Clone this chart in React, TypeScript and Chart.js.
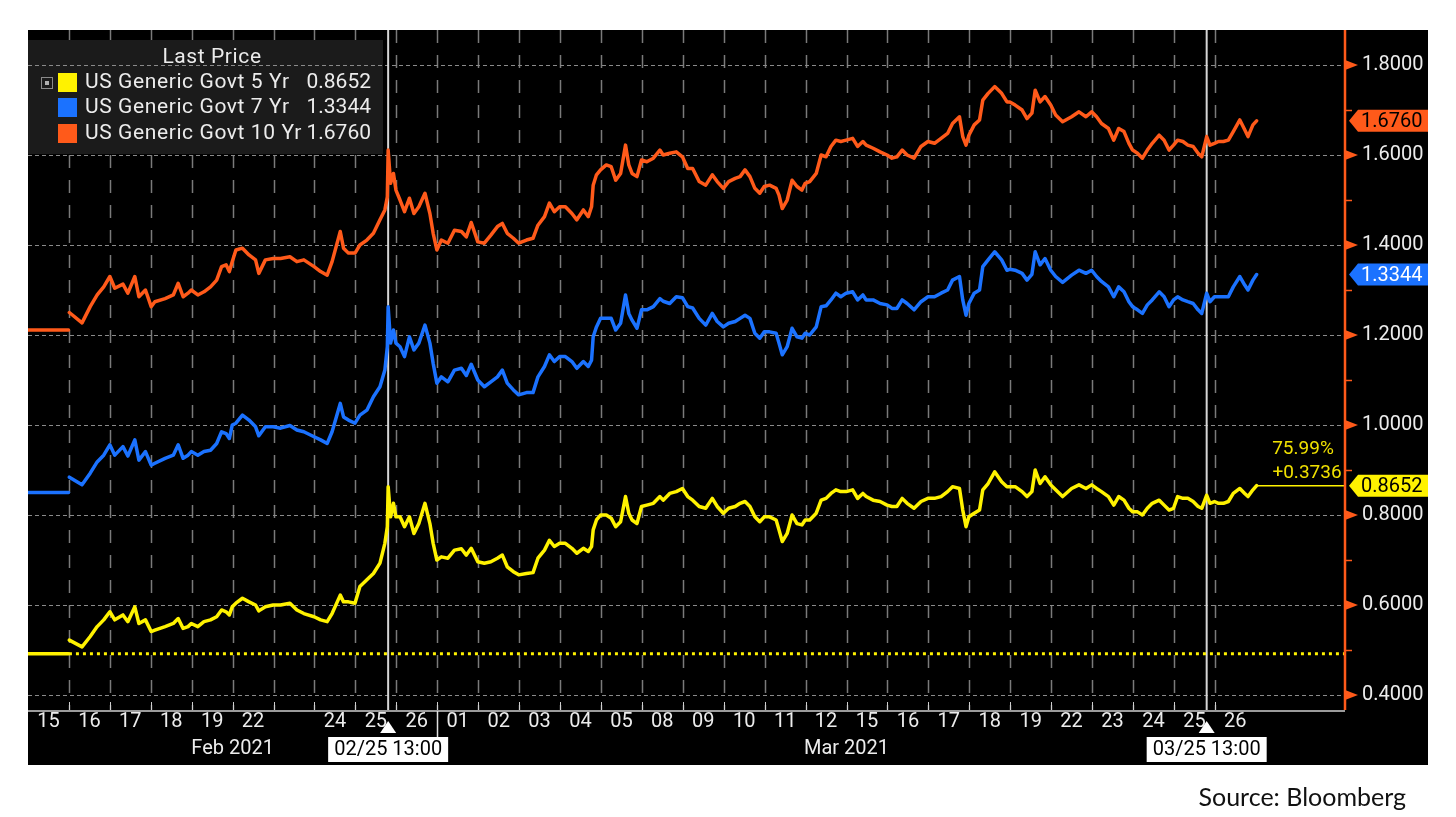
import React, { useEffect, useRef } from "react";
import { Chart, registerables } from "chart.js";

Chart.register(...registerables);

// ---------- data ----------
const dayLabels = ["15", "16", "17", "18", "19", "22", "23", "24", "25", "26", "01", "02", "03", "04", "05", "08", "09", "10", "11", "12", "15", "16", "17", "18", "19", "22", "23", "24", "25", "26"];
const hiddenDayLabelIndex = [6];
const monthLabels = ["Feb 2021", "Mar 2021"];
const monthStartIndex = [0, 10];
const eventTimes = [8.8, 28.8];
const eventLabels = ["02/25 13:00", "03/25 13:00"];
const yMajorTicks = [0.4, 0.6, 0.8, 1.0, 1.2, 1.4, 1.6, 1.8];
const yMinorTicks = [0.5, 0.7, 0.9, 1.1, 1.3, 1.5, 1.7];
const seriesNames = ["US Generic Govt 5 Yr", "US Generic Govt 7 Yr", "US Generic Govt 10 Yr"];
const lastPrices = [0.8652, 1.3344, 1.676];
const baseline5y = 0.4916;
const changeLabels = ["75.99%", "+0.3736"];
const legendTitle = "Last Price";
const sourceText = "Source: Bloomberg";

// time in trading-day units (0 = Feb 15 session start)
const times = [
  0, 0.99, 1.0,
  1.01, 1.32, 1.52, 1.69, 1.85, 2.0,
  2.12, 2.32, 2.44, 2.61, 2.71, 2.87, 3.01,
  3.1, 3.35, 3.55, 3.67, 3.79, 3.91, 3.99,
  4.15, 4.3, 4.46, 4.61, 4.73, 4.84, 4.92, 4.99,
  5.08, 5.24, 5.4, 5.56, 5.64, 5.8, 5.99,
  6.17, 6.4, 6.57, 6.74, 6.99,
  7.15, 7.31, 7.43, 7.63, 7.71, 7.83, 7.99,
  8.11, 8.28, 8.44, 8.6, 8.72, 8.78, 8.8, 8.86, 8.93, 8.99,
  9.09, 9.2, 9.32, 9.43, 9.55, 9.7, 9.82, 9.9, 9.99,
  10.1, 10.26, 10.42, 10.59, 10.71, 10.83, 10.99,
  11.15, 11.31, 11.47, 11.59, 11.71, 11.86, 11.99,
  12.18, 12.34, 12.46, 12.62, 12.74, 12.86, 12.99,
  13.13, 13.29, 13.41, 13.57, 13.69, 13.77, 13.81, 13.89, 13.99,
  14.13, 14.25, 14.36, 14.48, 14.6, 14.68, 14.76, 14.88, 14.99,
  15.12, 15.28, 15.44, 15.52, 15.68, 15.84, 15.99,
  16.12, 16.24, 16.4, 16.56, 16.72, 16.84, 16.99,
  17.12, 17.28, 17.4, 17.52, 17.64, 17.76, 17.88, 17.99,
  18.12, 18.28, 18.35, 18.43, 18.55, 18.67, 18.79, 18.91, 18.99,
  19.1, 19.26, 19.38, 19.5, 19.62, 19.74, 19.86, 19.99,
  20.15, 20.27, 20.4, 20.48, 20.65, 20.82, 20.99,
  21.11, 21.23, 21.36, 21.48, 21.65, 21.82, 21.99,
  22.15, 22.31, 22.47, 22.59, 22.76, 22.84, 22.92, 22.99,
  23.12, 23.25, 23.33, 23.46, 23.62, 23.79, 23.92, 23.99,
  24.12, 24.29, 24.41, 24.53, 24.61, 24.73, 24.85, 24.99,
  25.11, 25.28, 25.5, 25.68, 25.85, 25.99,
  26.11, 26.23, 26.4, 26.53, 26.65, 26.78, 26.9, 26.99,
  27.11, 27.23, 27.35, 27.47, 27.64, 27.76, 27.88, 27.99,
  28.09, 28.22, 28.34, 28.47, 28.59, 28.68, 28.8, 28.88, 28.99,
  29.09, 29.21, 29.33, 29.45, 29.61, 29.73, 29.81, 29.93, 30.02,
];

const yield10 = [
  1.211, 1.211, null,
  1.25, 1.227, 1.263, 1.289, 1.307, 1.33,
  1.304, 1.313, 1.293, 1.33, 1.285, 1.3, 1.263,
  1.274, 1.281, 1.289, 1.315, 1.285, 1.293, 1.3,
  1.289, 1.296, 1.307, 1.322, 1.352, 1.356, 1.341, 1.363,
  1.389, 1.393, 1.378, 1.367, 1.337, 1.367, 1.37,
  1.37, 1.374, 1.363, 1.367, 1.352,
  1.341, 1.333, 1.363, 1.43, 1.393, 1.382, 1.382,
  1.4, 1.411, 1.426, 1.456, 1.478, 1.507, 1.611, 1.537, 1.559, 1.522,
  1.5, 1.474, 1.504, 1.47, 1.485, 1.515, 1.47, 1.426, 1.389,
  1.411, 1.404, 1.433, 1.43, 1.418, 1.45, 1.407,
  1.404, 1.422, 1.441, 1.448, 1.426, 1.415, 1.404,
  1.411, 1.415, 1.444, 1.463, 1.493, 1.474, 1.485,
  1.485, 1.47, 1.456, 1.478, 1.463, 1.485, 1.533, 1.556, 1.567,
  1.578, 1.574, 1.544, 1.559, 1.622, 1.578, 1.559, 1.552, 1.589,
  1.585, 1.593, 1.611, 1.6, 1.604, 1.607, 1.596,
  1.57, 1.57, 1.541, 1.533, 1.556, 1.541, 1.526,
  1.541, 1.548, 1.552, 1.567, 1.552, 1.526, 1.515, 1.53,
  1.533, 1.526, 1.511, 1.481, 1.5, 1.544, 1.53, 1.522, 1.537,
  1.541, 1.559, 1.6, 1.596, 1.619, 1.633, 1.63, 1.633,
  1.637, 1.619, 1.63, 1.622, 1.615, 1.607, 1.6,
  1.593, 1.596, 1.611, 1.6, 1.593, 1.619, 1.63,
  1.626, 1.637, 1.648, 1.67, 1.685, 1.641, 1.622, 1.644,
  1.667, 1.678, 1.722, 1.737, 1.752, 1.737, 1.718, 1.718,
  1.711, 1.7, 1.681, 1.693, 1.744, 1.718, 1.73, 1.711,
  1.689, 1.674, 1.685, 1.696, 1.685, 1.696,
  1.685, 1.67, 1.659, 1.633, 1.659, 1.652, 1.626, 1.611,
  1.604, 1.593, 1.611, 1.626, 1.644, 1.633, 1.611, 1.622,
  1.633, 1.63, 1.622, 1.619, 1.604, 1.596, 1.641, 1.622, 1.626,
  1.63, 1.63, 1.633, 1.652, 1.678, 1.656, 1.641, 1.667, 1.676,
];

const yield7 = [
  0.85, 0.85, null,
  0.884, 0.867, 0.893, 0.918, 0.933, 0.956,
  0.933, 0.952, 0.931, 0.967, 0.922, 0.941, 0.911,
  0.915, 0.926, 0.933, 0.956, 0.926, 0.933, 0.941,
  0.933, 0.941, 0.944, 0.959, 0.985, 0.981, 0.97, 1.0,
  1.004, 1.022, 1.011, 0.996, 0.976, 0.996, 0.996,
  0.993, 0.999, 0.989, 0.985, 0.974,
  0.967, 0.959, 0.985, 1.048, 1.018, 1.011, 1.004,
  1.022, 1.033, 1.063, 1.085, 1.122, 1.174, 1.263, 1.182, 1.211, 1.182,
  1.174, 1.152, 1.196, 1.167, 1.182, 1.222, 1.182, 1.137, 1.093,
  1.107, 1.096, 1.122, 1.126, 1.11, 1.135, 1.1,
  1.085, 1.096, 1.107, 1.122, 1.093, 1.078, 1.067,
  1.072, 1.072, 1.107, 1.13, 1.156, 1.141, 1.152,
  1.152, 1.141, 1.126, 1.141, 1.13, 1.144, 1.196, 1.218, 1.237,
  1.237, 1.237, 1.211, 1.226, 1.289, 1.248, 1.233, 1.215, 1.256,
  1.256, 1.263, 1.281, 1.275, 1.27, 1.285, 1.283,
  1.263, 1.26, 1.237, 1.222, 1.248, 1.23, 1.218,
  1.226, 1.23, 1.237, 1.244, 1.237, 1.204, 1.193, 1.207,
  1.207, 1.204, 1.182, 1.156, 1.174, 1.215, 1.196, 1.193, 1.204,
  1.2, 1.218, 1.263, 1.265, 1.278, 1.293, 1.285, 1.293,
  1.296, 1.278, 1.289, 1.278, 1.278, 1.27, 1.267,
  1.259, 1.259, 1.278, 1.27, 1.256, 1.274, 1.285,
  1.285, 1.293, 1.3, 1.322, 1.33, 1.278, 1.244, 1.27,
  1.293, 1.3, 1.352, 1.367, 1.385, 1.367, 1.344, 1.346,
  1.344, 1.337, 1.322, 1.335, 1.385, 1.356, 1.37, 1.344,
  1.33, 1.317, 1.333, 1.344, 1.337, 1.344,
  1.33, 1.319, 1.307, 1.285, 1.307, 1.296, 1.274, 1.263,
  1.256, 1.248, 1.267, 1.278, 1.296, 1.285, 1.263, 1.278,
  1.285, 1.278, 1.274, 1.27, 1.256, 1.248, 1.293, 1.274, 1.285,
  1.285, 1.285, 1.285, 1.307, 1.33, 1.311, 1.3, 1.322, 1.3344,
];

const yield5 = [
  0.4916, 0.4916, null,
  0.522, 0.507, 0.53, 0.552, 0.567, 0.585,
  0.567, 0.578, 0.563, 0.596, 0.559, 0.567, 0.541,
  0.544, 0.552, 0.559, 0.57, 0.548, 0.552, 0.559,
  0.552, 0.563, 0.567, 0.574, 0.589, 0.585, 0.578, 0.596,
  0.604, 0.615, 0.607, 0.6, 0.587, 0.596, 0.6,
  0.6, 0.604, 0.589, 0.581, 0.574,
  0.567, 0.563, 0.581, 0.622, 0.607, 0.607, 0.604,
  0.641, 0.656, 0.67, 0.693, 0.737, 0.774, 0.863, 0.796, 0.826, 0.796,
  0.796, 0.774, 0.796, 0.759, 0.781, 0.826, 0.781, 0.737, 0.7,
  0.707, 0.704, 0.722, 0.725, 0.711, 0.726, 0.696,
  0.693, 0.696, 0.704, 0.711, 0.685, 0.674, 0.667,
  0.67, 0.672, 0.704, 0.722, 0.744, 0.73, 0.737,
  0.737, 0.726, 0.715, 0.726, 0.719, 0.73, 0.767, 0.789, 0.8,
  0.8, 0.793, 0.774, 0.785, 0.841, 0.804, 0.789, 0.781, 0.819,
  0.822, 0.826, 0.841, 0.833, 0.848, 0.852, 0.859,
  0.841, 0.833, 0.819, 0.815, 0.837, 0.819, 0.804,
  0.815, 0.819, 0.826, 0.83, 0.819, 0.796, 0.785, 0.796,
  0.796, 0.789, 0.767, 0.741, 0.759, 0.8, 0.781, 0.778, 0.789,
  0.789, 0.804, 0.833, 0.837, 0.848, 0.856, 0.852, 0.852,
  0.856, 0.837, 0.848, 0.841, 0.833, 0.83, 0.822,
  0.819, 0.819, 0.837, 0.826, 0.815, 0.83, 0.837,
  0.837, 0.841, 0.852, 0.863, 0.859, 0.811, 0.774, 0.796,
  0.804, 0.811, 0.856, 0.87, 0.896, 0.874, 0.863, 0.863,
  0.863, 0.852, 0.841, 0.852, 0.9, 0.87, 0.885, 0.867,
  0.856, 0.841, 0.859, 0.867, 0.859, 0.867,
  0.859, 0.852, 0.841, 0.822, 0.841, 0.833, 0.815, 0.807,
  0.807, 0.8, 0.815, 0.826, 0.833, 0.822, 0.811, 0.815,
  0.841, 0.837, 0.837, 0.83, 0.819, 0.815, 0.844, 0.826, 0.83,
  0.826, 0.826, 0.83, 0.848, 0.859, 0.848, 0.841, 0.856, 0.8652,
];

// ---------- look ----------
const W = 1456;
const H = 817;
const X_MAX = 32.18;
const Y_MIN = 0.3667;
const Y_MAX = 1.8778;
const FONT = "Roboto, 'DejaVu Sans', sans-serif";
const ORANGE = "#ff5a1a";
const BLUE = "#1b72ff";
const YELLOW = "#fff200";
const TEXT = "#ececec";
const seriesColors = [YELLOW, BLUE, ORANGE];
const tagTextColors = ["#000000", "#ffffff", "#000000"];

const BG = { left: 28, top: 30, right: 1428, bottom: 765 };

const decorPlugin = {
  id: "bbgDecor",
  beforeDraw(chart: any) {
    const { ctx, chartArea: a, scales } = chart;
    const x = scales.x;
    const y = scales.y;
    ctx.save();
    ctx.fillStyle = "#000";
    ctx.fillRect(BG.left, BG.top, BG.right - BG.left, BG.bottom - BG.top);

    // vertical day separators (dashed)
    ctx.strokeStyle = "#7a7a7a";
    ctx.lineWidth = 1.5;
    ctx.setLineDash([13, 12]);
    for (let i = 1; i < dayLabels.length; i++) {
      const px = Math.round(x.getPixelForValue(i)) + 0.5;
      ctx.beginPath();
      ctx.moveTo(px, a.top);
      ctx.lineTo(px, a.bottom);
      ctx.stroke();
    }
    ctx.setLineDash([]);

    // legend box background
    ctx.fillStyle = "#1b1b1b";
    ctx.fillRect(a.left, 40, 355, 114);

    // horizontal dotted grid
    ctx.strokeStyle = "#8a8a8a";
    ctx.lineWidth = 1.2;
    ctx.setLineDash([4, 3]);
    yMajorTicks.forEach((v) => {
      const py = Math.round(y.getPixelForValue(v)) + 0.5;
      ctx.beginPath();
      ctx.moveTo(a.left, py);
      ctx.lineTo(a.right, py);
      ctx.stroke();
    });
    ctx.setLineDash([]);

    // event lines
    ctx.strokeStyle = "#d6d6d6";
    ctx.lineWidth = 2;
    eventTimes.forEach((t) => {
      const px = x.getPixelForValue(t);
      ctx.beginPath();
      ctx.moveTo(px, a.top);
      ctx.lineTo(px, a.bottom);
      ctx.stroke();
    });
    ctx.restore();
  },
  afterDraw(chart: any) {
    const { ctx, chartArea: a, scales } = chart;
    const x = scales.x;
    const y = scales.y;
    ctx.save();

    // x-axis base line and small ticks
    ctx.strokeStyle = "#cfcfcf";
    ctx.lineWidth = 1.5;
    ctx.beginPath();
    ctx.moveTo(a.left, a.bottom + 1);
    ctx.lineTo(a.right, a.bottom + 1);
    ctx.stroke();
    ctx.lineWidth = 1;
    for (let i = 1; i < dayLabels.length; i++) {
      const px = Math.round(x.getPixelForValue(i)) + 0.5;
      ctx.beginPath();
      ctx.moveTo(px, a.bottom - 8);
      ctx.lineTo(px, a.bottom);
      ctx.stroke();
    }

    // month separator and labels
    ctx.strokeStyle = "#e0e0e0";
    ctx.lineWidth = 1.5;
    const sepX = Math.round(x.getPixelForValue(monthStartIndex[1])) + 0.5;
    ctx.beginPath();
    ctx.moveTo(sepX, a.bottom + 1);
    ctx.lineTo(sepX, a.bottom + 28);
    ctx.stroke();
    ctx.fillStyle = TEXT;
    ctx.font = `20px ${FONT}`;
    ctx.textAlign = "center";
    ctx.textBaseline = "middle";
    monthLabels.forEach((m, i) => {
      const s = monthStartIndex[i];
      const e = i + 1 < monthStartIndex.length ? monthStartIndex[i + 1] : dayLabels.length;
      ctx.fillText(m, x.getPixelForValue((s + e) / 2), 749);
    });

    // event markers: triangle + date box
    eventTimes.forEach((t, i) => {
      const px = x.getPixelForValue(t);
      ctx.fillStyle = "#ffffff";
      ctx.beginPath();
      ctx.moveTo(px, 721);
      ctx.lineTo(px - 8, 733);
      ctx.lineTo(px + 8, 733);
      ctx.closePath();
      ctx.fill();
      ctx.fillRect(px - 60, 737, 120, 25);
      ctx.fillStyle = "#000";
      ctx.font = `20px ${FONT}`;
      ctx.fillText(eventLabels[i], px, 750);
    });

    // right axis line and marks
    ctx.strokeStyle = ORANGE;
    ctx.fillStyle = ORANGE;
    ctx.lineWidth = 2.5;
    ctx.beginPath();
    ctx.moveTo(a.right, a.top);
    ctx.lineTo(a.right, a.bottom);
    ctx.stroke();
    yMajorTicks.forEach((v) => {
      const py = y.getPixelForValue(v);
      ctx.beginPath();
      ctx.moveTo(a.right, py - 5);
      ctx.lineTo(a.right + 13, py);
      ctx.lineTo(a.right, py + 5);
      ctx.closePath();
      ctx.fill();
    });
    ctx.lineWidth = 1.5;
    yMinorTicks.forEach((v) => {
      const py = Math.round(y.getPixelForValue(v)) + 0.5;
      ctx.beginPath();
      ctx.moveTo(a.right, py);
      ctx.lineTo(a.right + 7, py);
      ctx.stroke();
    });

    // last price tags
    lastPrices.forEach((v, i) => {
      const py = y.getPixelForValue(v);
      ctx.fillStyle = seriesColors[i];
      ctx.beginPath();
      ctx.moveTo(a.right + 4, py);
      ctx.lineTo(a.right + 13, py - 11);
      ctx.lineTo(BG.right, py - 11);
      ctx.lineTo(BG.right, py + 11);
      ctx.lineTo(a.right + 13, py + 11);
      ctx.closePath();
      ctx.fill();
      ctx.fillStyle = tagTextColors[i];
      ctx.font = `20px ${FONT}`;
      ctx.textAlign = "left";
      ctx.textBaseline = "middle";
      ctx.fillText(v.toFixed(4), a.right + 16, py + 1);
    });

    // change annotation for 5 Yr
    const pyLast = y.getPixelForValue(lastPrices[0]);
    ctx.fillStyle = "#efe000";
    ctx.font = `19px ${FONT}`;
    ctx.textAlign = "center";
    ctx.fillText(changeLabels[0], a.right - 42, pyLast - 36);
    ctx.fillText(changeLabels[1], a.right - 38, pyLast - 12);

    // legend
    ctx.fillStyle = TEXT;
    ctx.font = `21px ${FONT}`;
    ctx.textAlign = "center";
    (ctx as any).letterSpacing = "0.6px";
    ctx.fillText(legendTitle, 212, 58);
    ctx.strokeStyle = "#8a8a8a";
    ctx.lineWidth = 1;
    ctx.strokeRect(41.5, 77.5, 11, 11);
    ctx.fillStyle = "#b0b0b0";
    ctx.fillRect(45, 81, 4, 4);
    const rowY = [83, 108, 134];
    seriesNames.forEach((n, i) => {
      const cy = rowY[i];
      ctx.fillStyle = seriesColors[i];
      ctx.fillRect(58, cy - 10, 19, 19);
      ctx.fillStyle = TEXT;
      ctx.textAlign = "left";
      (ctx as any).letterSpacing = "0.6px";
      ctx.fillText(n, 85, cy);
      (ctx as any).letterSpacing = "0px";
      ctx.textAlign = "right";
      ctx.fillText(lastPrices[i].toFixed(4), 371, cy);
    });
    (ctx as any).letterSpacing = "0px";

    ctx.restore();
  },
};

const toPoints = (arr: (number | null)[]) => times.map((t, i) => ({ x: t, y: arr[i] }));

export default function App() {
  const ref = useRef<HTMLCanvasElement | null>(null);

  useEffect(() => {
    if (!ref.current) return;
    const lastT = times[times.length - 1];
    const chart = new Chart(ref.current, {
      type: "line",
      data: {
        datasets: [
          {
            label: "base",
            data: [
              { x: 1.0, y: baseline5y },
              { x: X_MAX, y: baseline5y },
            ],
            borderColor: YELLOW,
            borderWidth: 3,
            borderDash: [3, 4],
            borderCapStyle: "butt",
            pointRadius: 0,
          },
          {
            label: "last",
            data: [
              { x: lastT, y: lastPrices[0] },
              { x: X_MAX, y: lastPrices[0] },
            ],
            borderColor: YELLOW,
            borderWidth: 1.5,
            pointRadius: 0,
          },
          {
            label: seriesNames[2],
            data: toPoints(yield10),
            borderColor: ORANGE,
            borderWidth: 3.5,
            pointRadius: 0,
            spanGaps: false,
          },
          {
            label: seriesNames[1],
            data: toPoints(yield7),
            borderColor: BLUE,
            borderWidth: 3.5,
            pointRadius: 0,
            spanGaps: false,
          },
          {
            label: seriesNames[0],
            data: toPoints(yield5),
            borderColor: YELLOW,
            borderWidth: 3.5,
            pointRadius: 0,
            spanGaps: false,
          },
        ],
      } as any,
      options: {
        responsive: false,
        animation: false,
        devicePixelRatio: 1,
        parsing: false as any,
        layout: { padding: { left: 28, top: 30, right: 0, bottom: 0 } },
        plugins: { legend: { display: false }, tooltip: { enabled: false } },
        elements: { line: { tension: 0, borderJoinStyle: "round", borderCapStyle: "round" } },
        scales: {
          x: {
            type: "linear",
            position: "bottom",
            min: 0,
            max: X_MAX,
            afterBuildTicks: (s: any) => {
              s.ticks = dayLabels.map((_, i) => ({ value: i + 0.5 }));
            },
            afterFit: (s: any) => {
              s.height = H - 710;
            },
            grid: { display: false, drawTicks: false },
            border: { display: false },
            ticks: {
              autoSkip: false,
              maxRotation: 0,
              color: TEXT,
              padding: 0,
              font: { family: FONT, size: 20 },
              callback: (_v: any, i: number) => (hiddenDayLabelIndex.includes(i) ? "" : dayLabels[i]),
            },
          },
          y: {
            type: "linear",
            position: "right",
            min: Y_MIN,
            max: Y_MAX,
            afterBuildTicks: (s: any) => {
              s.ticks = yMajorTicks.map((v) => ({ value: v }));
            },
            afterFit: (s: any) => {
              s.width = W - 1345;
            },
            grid: { display: false, drawTicks: false },
            border: { display: false },
            ticks: {
              autoSkip: false,
              color: TEXT,
              padding: 17,
              font: { family: FONT, size: 20 },
              callback: (v: any) => Number(v).toFixed(4),
            },
          },
        },
      } as any,
      plugins: [decorPlugin],
    });
    return () => chart.destroy();
  }, []);

  return (
    <div style={{ position: "absolute", left: 0, top: 0, width: W, height: H, background: "#fff" }}>
      <canvas ref={ref} width={W} height={H} style={{ display: "block", width: W, height: H }} />
      <div
        style={{
          position: "absolute",
          left: 1100,
          top: 779,
          width: 306,
          textAlign: "right",
          fontFamily: "Lato, 'Open Sans', sans-serif",
          fontSize: 25,
          lineHeight: "34px",
          color: "#111",
        }}
      >
        {sourceText}
      </div>
    </div>
  );
}
